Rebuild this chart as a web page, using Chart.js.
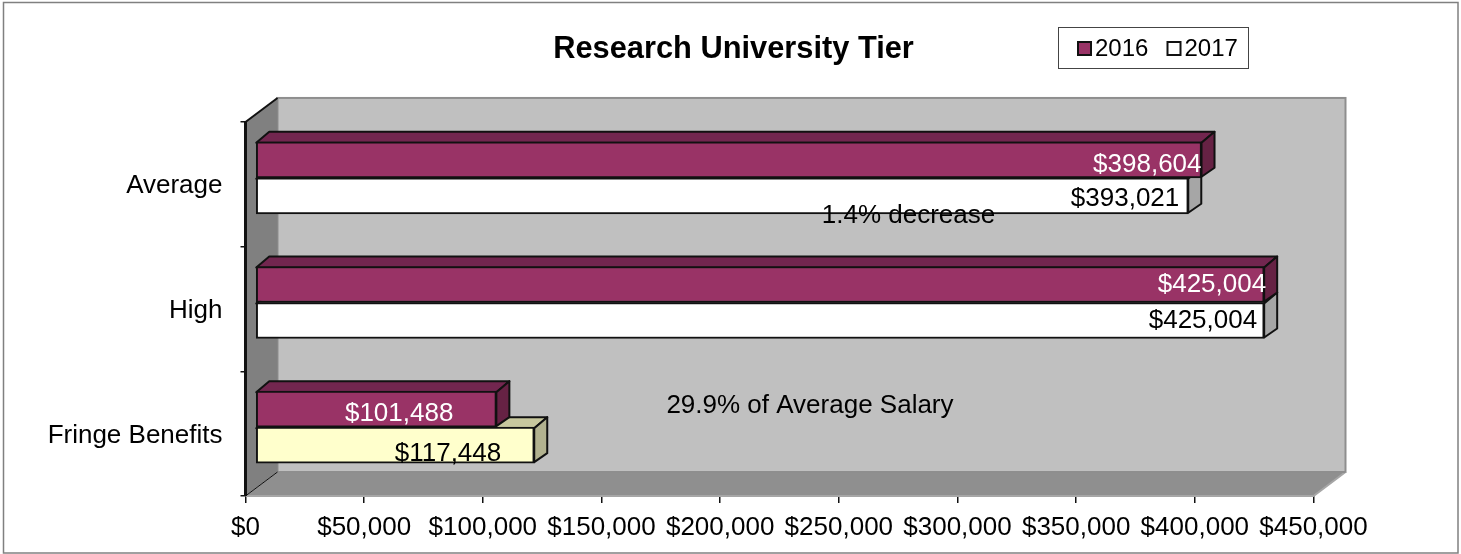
<!DOCTYPE html>
<html>
<head>
<meta charset="utf-8">
<title>Research University Tier</title>
<script src="https://cdn.jsdelivr.net/npm/chart.js@4"></script>
<style>
html,body{margin:0;padding:0;background:#fff;overflow:hidden}
canvas{display:block}
</style>
</head>
<body>
<canvas id="c" width="1461" height="554"></canvas>
<script>
const categories = ['Average', 'High', 'Fringe Benefits'];
const seriesNames = ['2016', '2017'];
const values2016 = [398604, 425004, 101488];
const values2017 = [393021, 425004, 117448];
const xTicksMax = 450000;
const xTickStep = 50000;
const titleText = 'Research University Tier';
const notes = ['1.4% decrease', '29.9% of Average Salary'];
const noteValues = [279350, 237830];
const noteCategories = [0, 2];

const FONT = '"Liberation Sans", Arial, sans-serif';
const money = v => '$' + Number(v).toLocaleString('en-US');

/* Style constants for the pseudo-3D look */
const WALL_DX = 32, WALL_DY = 24;
const BAR_SHIFT_X = 10, BAR_SHIFT_Y = -6.5;
const BAR_DX = 13, BAR_DY = 10;
const TITLE_SHIFT = 76.75;
const faces = {
  '#993366': {top: '#72264f', side: '#662244'},
  '#FFFFFF': {top: '#c0c0c0', side: '#a6a6a6'},
  '#FFFFCC': {top: '#c8c89e', side: '#b2b28f'}
};
/* label nudges, [dataset][category] -> [dx from bar end, dy from bar centre] */
const labelNudge = [
  [[0, 5], [2, 0], [-43, 5]],
  [[-9, 3], [-7, 0], [-33, 9]]
];
const labelColors = ['#FFFFFF', '#000000'];
const noteOffsets = [31.5, -27.5];

const depthPlugin = {
  id: 'depth',
  afterLayout(chart) {
    const t = chart.titleBlock;
    if (t) { t.left += TITLE_SHIFT; t.right += TITLE_SHIFT; }
  },
  beforeDatasetsDraw(chart) {
    const {ctx, chartArea: a} = chart;
    const L = a.left, R = a.right, T = a.top, B = a.bottom;
    ctx.save();
    // back wall
    ctx.fillStyle = '#C0C0C0';
    ctx.fillRect(L + WALL_DX, T - WALL_DY, R - L, B - T);
    ctx.strokeStyle = '#8e8e8e';
    ctx.lineWidth = 2;
    ctx.strokeRect(L + WALL_DX, T - WALL_DY, R - L, B - T);
    // side wall
    ctx.fillStyle = '#808080';
    ctx.beginPath();
    ctx.moveTo(L, T); ctx.lineTo(L + WALL_DX, T - WALL_DY);
    ctx.lineTo(L + WALL_DX, B - WALL_DY); ctx.lineTo(L, B); ctx.closePath();
    ctx.fill();
    // floor
    ctx.fillStyle = '#8f8f8f';
    ctx.beginPath();
    ctx.moveTo(L, B); ctx.lineTo(L + WALL_DX, B - WALL_DY);
    ctx.lineTo(R + WALL_DX, B - WALL_DY); ctx.lineTo(R, B); ctx.closePath();
    ctx.fill();
    ctx.strokeStyle = '#a6a6a6';
    ctx.lineWidth = 2;
    ctx.beginPath();
    ctx.moveTo(L, B); ctx.lineTo(R, B); ctx.lineTo(R + WALL_DX, B - WALL_DY);
    ctx.stroke();
    ctx.strokeStyle = '#8e8e8e';
    ctx.beginPath();
    ctx.moveTo(L + WALL_DX, B - WALL_DY); ctx.lineTo(R + WALL_DX, B - WALL_DY);
    ctx.stroke();
    // axis edges
    ctx.strokeStyle = '#111';
    ctx.lineWidth = 3;
    ctx.beginPath();
    ctx.moveTo(L, T); ctx.lineTo(L, B);
    ctx.stroke();
    ctx.lineWidth = 2;
    ctx.beginPath();
    ctx.moveTo(L + WALL_DX, T - WALL_DY); ctx.lineTo(L, T);
    ctx.stroke();
    ctx.lineWidth = 1;
    ctx.beginPath();
    ctx.moveTo(L, B); ctx.lineTo(L + WALL_DX, B - WALL_DY);
    ctx.stroke();
    ctx.restore();
  },
  beforeDatasetDraw(chart, args) {
    const {ctx} = chart;
    ctx.save();
    ctx.translate(BAR_SHIFT_X, BAR_SHIFT_Y);
    args.meta.data.forEach((bar, i) => {
      const h = bar.height / 2;
      const x0 = bar.base, x1 = bar.x, y0 = bar.y - h, y1 = bar.y + h;
      const bg = chart.data.datasets[args.index].backgroundColor[i];
      const f = faces[bg];
      ctx.strokeStyle = '#111';
      ctx.lineWidth = 2;
      ctx.lineJoin = 'round';
      ctx.fillStyle = f.top;
      ctx.beginPath();
      ctx.moveTo(x0, y0 + 1); ctx.lineTo(x0 + BAR_DX, y0 - BAR_DY);
      ctx.lineTo(x1 + BAR_DX, y0 - BAR_DY); ctx.lineTo(x1, y0 + 1); ctx.closePath();
      ctx.fill(); ctx.stroke();
      ctx.fillStyle = f.side;
      ctx.beginPath();
      ctx.moveTo(x1, y0 + 1); ctx.lineTo(x1 + BAR_DX, y0 - BAR_DY);
      ctx.lineTo(x1 + BAR_DX, y1 - BAR_DY); ctx.lineTo(x1, y1 - 1); ctx.closePath();
      ctx.fill(); ctx.stroke();
    });
  },
  afterDatasetDraw(chart) {
    chart.ctx.restore();
  },
  afterDatasetsDraw(chart) {
    const {ctx, scales} = chart;
    ctx.save();
    ctx.font = '26px ' + FONT;
    ctx.textBaseline = 'middle';
    // value labels
    chart.data.datasets.forEach((ds, d) => {
      const meta = chart.getDatasetMeta(d);
      meta.data.forEach((bar, i) => {
        const n = labelNudge[d][i];
        ctx.fillStyle = labelColors[d];
        ctx.textAlign = 'right';
        ctx.fillText(money(ds.data[i]), bar.x + BAR_SHIFT_X + n[0], bar.y + BAR_SHIFT_Y + n[1]);
      });
    });
    // notes
    ctx.fillStyle = '#000';
    ctx.textAlign = 'center';
    notes.forEach((t, i) => {
      ctx.fillText(t, scales.x.getPixelForValue(noteValues[i]),
        scales.y.getPixelForValue(noteCategories[i]) + noteOffsets[i]);
    });
    // outer frame
    ctx.strokeStyle = '#808080';
    ctx.lineWidth = 1.5;
    ctx.strokeRect(3.5, 2.5, 1454.5, 550.5);
    // legend
    const lx = 1058.5, ly = 27.5, lw = 190, lh = 41;
    ctx.strokeStyle = '#444';
    ctx.lineWidth = 1;
    ctx.strokeRect(lx, ly, lw, lh);
    ctx.textAlign = 'left';
    ctx.font = '24px ' + FONT;
    const starts = [19.5, 109];
    chart.data.datasets.forEach((ds, d) => {
      const bx = lx + starts[d];
      ctx.fillStyle = ds.backgroundColor[0];
      ctx.strokeStyle = '#111';
      ctx.lineWidth = 2;
      ctx.fillRect(bx, ly + 14.5, 13, 13);
      ctx.strokeRect(bx, ly + 14.5, 13, 13);
      ctx.fillStyle = '#000';
      ctx.fillText(ds.label, bx + 17, ly + 21.5);
    });
    ctx.restore();
  }
};

new Chart(document.getElementById('c'), {
  type: 'bar',
  data: {
    labels: categories,
    datasets: [
      {label: seriesNames[0], data: values2016, backgroundColor: ['#993366', '#993366', '#993366'],
       borderColor: '#111', borderWidth: 2, borderSkipped: false, barThickness: 36, clip: false},
      {label: seriesNames[1], data: values2017, backgroundColor: ['#FFFFFF', '#FFFFFF', '#FFFFCC'],
       borderColor: '#111', borderWidth: 2, borderSkipped: false, barThickness: 36, clip: false}
    ]
  },
  options: {
    indexAxis: 'y',
    responsive: false,
    animation: false,
    layout: {padding: {left: 0, right: 147.5, top: 0, bottom: 0}},
    plugins: {
      legend: {display: false},
      tooltip: {enabled: false},
      title: {
        display: true,
        text: titleText,
        color: '#000',
        font: {family: FONT, size: 30.8, weight: 'bold', lineHeight: 1.2},
        padding: {top: 31, bottom: 54}
      }
    },
    scales: {
      x: {
        min: 0, max: xTicksMax,
        afterFit(s) { s.height = 58; },
        ticks: {
          stepSize: xTickStep, autoSkip: false, maxRotation: 0, minRotation: 0,
          color: '#000', padding: 9,
          font: {family: FONT, size: 26},
          callback: v => money(v)
        },
        border: {display: false},
        grid: {drawOnChartArea: false, drawTicks: true, tickLength: 7, tickColor: '#111', lineWidth: 1.5}
      },
      y: {
        afterFit(s) { s.width = 245.5; },
        ticks: {color: '#000', padding: 18, labelOffset: 2, font: {family: FONT, size: 26}},
        border: {display: false},
        grid: {drawOnChartArea: false, drawTicks: true, tickLength: 5, tickColor: '#111', lineWidth: 1.5}
      }
    }
  },
  plugins: [depthPlugin]
});
</script>
</body>
</html>
